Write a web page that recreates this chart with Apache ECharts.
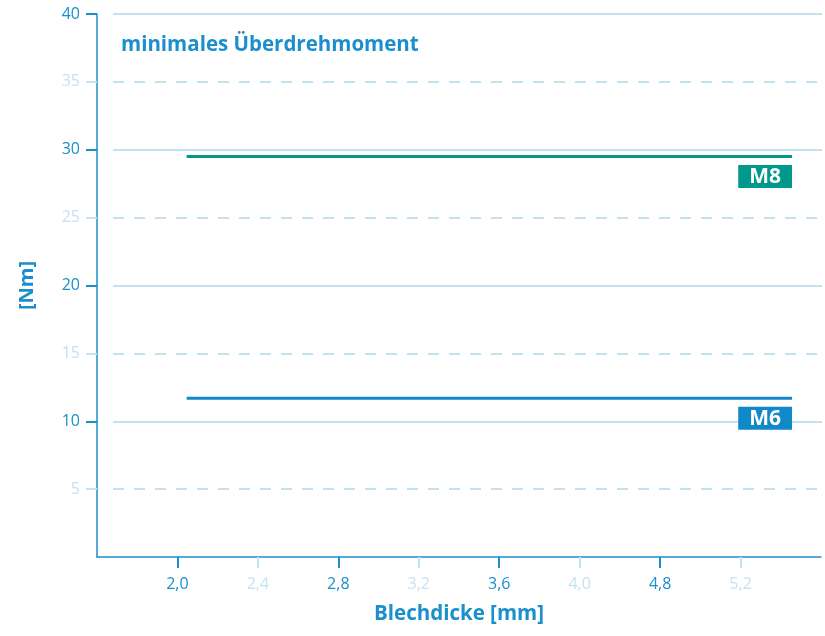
<!DOCTYPE html>
<html><head><meta charset="utf-8">
<script src="https://cdn.jsdelivr.net/npm/echarts@6/dist/echarts.min.js"></script>
<style>html,body{margin:0;padding:0;background:#fff}#c{width:825px;height:636px}</style>
</head><body><div id="c"></div>
<script>
// ---- data ----
const chartTitle = 'minimales Überdrehmoment';
const xName = 'Blechdicke [mm]';
const yName = '[Nm]';
const xTickLabels = ['2,0', '2,4', '2,8', '3,2', '3,6', '4,0', '4,8', '5,2'];
const xMajorPos = [1, 3, 5, 7];
const xMinorPos = [2, 4, 6, 8];
const yMajorTicks = [10, 20, 30, 40];
const yMinorTicks = [5, 15, 25, 35];
const seriesNames = ['M8', 'M6'];
// [x position on thickness scale (tick index), torque Nm]
const m8Values = [[1.115, 29.5], [8.64, 29.5]];
const m6Values = [[1.115, 11.7], [8.64, 11.7]];

// ---- style ----
const FONT = 'Open Sans';
const DARK = '#1a8fcc';
const LIGHT = '#c3e2f4';
const GRID = '#aed8f0';
const TEAL = '#00988b';
const BLUE = '#1189c9';

const chart = echarts.init(document.getElementById('c'), null, { renderer: 'canvas' });

function lineSeries(name, values, color) {
  const last = values.length - 1;
  return {
    name: name, type: 'line', xAxisIndex: 0, yAxisIndex: 0,
    symbol: 'circle', symbolSize: 1, itemStyle: { color: 'rgba(0,0,0,0)' },
    lineStyle: { color: color, width: 3 },
    silent: true,
    data: values.map((v, i) => i === last ? {
      value: v,
      label: {
        show: true, formatter: name, position: 'bottom', distance: 8, align: 'right',
        backgroundColor: color, color: '#fff', fontFamily: FONT, fontWeight: 'bold',
        fontSize: 21, lineHeight: 20, padding: [2, 11, 1, 11]
      }
    } : { value: v })
  };
}

const option = {
  animation: false,
  title: {
    text: chartTitle, left: 116, top: 30,
    textStyle: { fontFamily: FONT, fontSize: 20.5, fontWeight: 'bold', color: DARK }
  },
  grid: [
    { left: 97, right: 4, top: 14, bottom: 79 },
    { left: 113, right: 3, top: 14, bottom: 79 }
  ],
  xAxis: [
    {
      gridIndex: 0, type: 'value', min: 0, max: 9, position: 'bottom',
      axisLine: { show: true, onZero: false, lineStyle: { color: DARK, width: 1.5 } },
      axisTick: { show: true, customValues: xMajorPos, length: 11, lineStyle: { color: DARK, width: 2 } },
      axisLabel: { customValues: xMajorPos, formatter: v => xTickLabels[v - 1], color: DARK, fontFamily: FONT, fontSize: 16, margin: 19 },
      splitLine: { show: false },
      name: xName, nameLocation: 'middle', nameGap: 47,
      nameTextStyle: { fontFamily: FONT, fontSize: 20.5, fontWeight: 'bold', color: DARK }
    },
    {
      gridIndex: 0, type: 'value', min: 0, max: 9, position: 'bottom',
      axisLine: { show: false, onZero: false },
      axisTick: { show: true, customValues: xMinorPos, length: 11, lineStyle: { color: LIGHT, width: 2 } },
      axisLabel: { customValues: xMinorPos, formatter: v => xTickLabels[v - 1], color: LIGHT, fontFamily: FONT, fontSize: 16, margin: 19 },
      splitLine: { show: false }
    },
    { gridIndex: 1, type: 'value', min: 0, max: 9, show: false }
  ],
  yAxis: [
    {
      gridIndex: 0, type: 'value', min: 0, max: 40, position: 'left',
      axisLine: { show: true, onZero: false, lineStyle: { color: DARK, width: 1.5 } },
      axisTick: { show: true, customValues: yMajorTicks, length: 11, lineStyle: { color: DARK, width: 2 } },
      axisLabel: { customValues: yMajorTicks, color: DARK, fontFamily: FONT, fontSize: 16, margin: 17 },
      splitLine: { show: false },
      name: yName, nameLocation: 'middle', nameGap: 60, nameRotate: 90,
      nameTextStyle: { fontFamily: FONT, fontSize: 20, fontWeight: 'bold', color: DARK }
    },
    {
      gridIndex: 0, type: 'value', min: 0, max: 40, position: 'left',
      axisLine: { show: false, onZero: false },
      axisTick: { show: true, customValues: yMinorTicks, length: 11, lineStyle: { color: LIGHT, width: 2 } },
      axisLabel: { customValues: yMinorTicks, color: LIGHT, fontFamily: FONT, fontSize: 16, margin: 17 },
      splitLine: { show: false }
    },
    {
      gridIndex: 1, type: 'value', min: 0, max: 40,
      axisLine: { show: false }, axisLabel: { show: false },
      axisTick: { show: false, customValues: yMajorTicks },
      splitLine: { show: true, lineStyle: { color: GRID, width: 1.5, type: 'solid' } }
    },
    {
      gridIndex: 1, type: 'value', min: 0, max: 40,
      axisLine: { show: false }, axisLabel: { show: false },
      axisTick: { show: false, customValues: yMinorTicks },
      splitLine: { show: true, lineStyle: { color: GRID, width: 1.5, type: [11, 10] } }
    }
  ],
  series: [
    lineSeries(seriesNames[0], m8Values, TEAL),
    lineSeries(seriesNames[1], m6Values, BLUE)
  ]
};
chart.setOption(option);
</script>
</body></html>
